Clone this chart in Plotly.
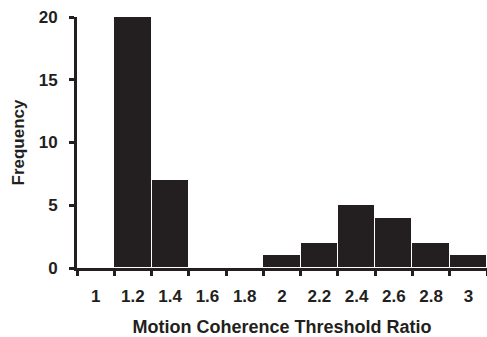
import plotly.graph_objects as go

categories = ["1", "1.2", "1.4", "1.6", "1.8", "2", "2.2", "2.4", "2.6", "2.8", "3"]
frequency = [0, 20, 7, 0, 0, 1, 2, 5, 4, 2, 1]
y_ticks = [0, 5, 10, 15, 20]

font_family = "Liberation Sans, Arial, sans-serif"
ink = "#231f20"

fig = go.Figure(
    go.Bar(
        x=categories,
        y=frequency,
        marker=dict(color=ink, line=dict(color="white", width=1)),
    )
)

fig.update_layout(
    width=487,
    height=337,
    margin=dict(l=77, r=0, t=17, b=69),
    plot_bgcolor="white",
    paper_bgcolor="white",
    bargap=0,
    showlegend=False,
    font=dict(family=font_family, color=ink),
)

fig.update_xaxes(
    type="category",
    range=[-0.5, 10.5],
    tickson="boundaries",
    ticks="outside",
    ticklen=5,
    tickwidth=3,
    tickcolor=ink,
    showline=True,
    linewidth=3,
    linecolor=ink,
    showgrid=False,
    zeroline=False,
    tickfont=dict(size=17, family=font_family, color=ink, weight="bold"),
    ticklabelstandoff=11,
    title=dict(
        text="<b>Motion Coherence Threshold Ratio</b>",
        font=dict(size=18, family=font_family, color=ink),
        standoff=19,
    ),
)

fig.update_yaxes(
    range=[0, 20],
    tickvals=y_ticks,
    ticks="outside",
    ticklen=5,
    tickwidth=3,
    tickcolor=ink,
    showline=True,
    linewidth=3,
    linecolor=ink,
    showgrid=False,
    zeroline=False,
    tickfont=dict(size=17, family=font_family, color=ink, weight="bold"),
    ticklabelstandoff=8,
    title=dict(
        text="<b>Frequency</b>",
        font=dict(size=17, family=font_family, color=ink),
        standoff=10,
    ),
)

fig.write_html("out.html")
